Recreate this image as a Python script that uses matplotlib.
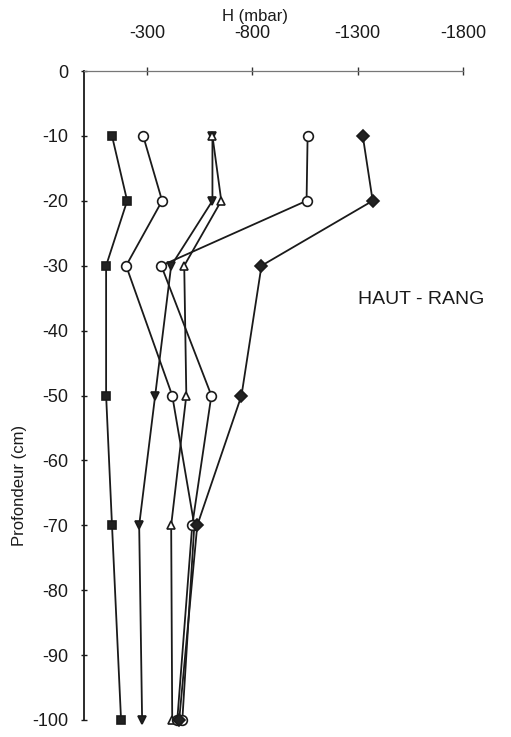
import matplotlib
matplotlib.use("Agg")
import matplotlib.pyplot as plt

W, H = 511, 737
plt.rcParams['font.family'] = ['Liberation Sans', 'DejaVu Sans']

# Depths (cm) and matric potential H (mbar) for each profile
depths = [-10, -20, -30, -50, -70, -100]
s1 = [-133, -205, -105, -105, -133, -176]
s2 = [-281, -371, -200, -419, -524, -467]
s3 = [-610, -610, -414, -338, -262, -276]
s4 = [-610, -652, -476, -486, -414, -419]
s5 = [-1062, -1057, -367, -605, -514, -443]
s6 = [-1324, -1371, -843, -748, -538, -452]

x_ticks = [-300, -800, -1300, -1800]
x_ticklabels = ['-300', '-800', '-1300', '-1800']
y_ticks = [0, -10, -20, -30, -40, -50, -60, -70, -80, -90, -100]
y_ticklabels = ['0', '-10', '-20', '-30', '-40', '-50', '-60', '-70', '-80', '-90', '-100']

fig = plt.figure(figsize=(W / 100, H / 100), dpi=100)
ax = fig.add_axes([84 / W, 1 - 720 / H, (463 - 84) / W, (720 - 71) / H])

styles = [
    (s1, dict(marker='s', mfc='#222222', ms=6)),
    (s2, dict(marker='o', mfc='white', ms=7)),
    (s3, dict(marker='v', mfc='#222222', ms=6)),
    (s4, dict(marker='^', mfc='white', ms=6)),
    (s5, dict(marker='o', mfc='white', ms=7)),
    (s6, dict(marker='D', mfc='#222222', ms=6)),
]
for vals, st in styles:
    ax.plot(vals, depths, color='#1a1a1a', lw=1.3, mec='#1a1a1a', mew=1.2,
            clip_on=False, zorder=3, **st)

ax.set_xlim(0, -1800)
ax.set_ylim(-100, 0)

for side in ('right', 'bottom'):
    ax.spines[side].set_visible(False)
ax.spines['top'].set_color('#777777')
ax.spines['top'].set_linewidth(0.9)
ax.spines['left'].set_color('#1a1a1a')
ax.spines['left'].set_linewidth(1.3)

ax.xaxis.tick_top()
ax.set_xticks(x_ticks)
ax.set_xticklabels(x_ticklabels, fontsize=13)
ax.tick_params(axis='x', direction='inout', length=6, width=1, pad=18, colors='#333333',
               labelcolor='#1a1a1a')
ax.set_yticks(y_ticks)
ax.set_yticklabels(y_ticklabels, fontsize=13)
ax.tick_params(axis='y', direction='inout', length=5, width=1, pad=9, colors='#1a1a1a')

fig.text(255 / W, 1 - 16 / H, 'H (mbar)', ha='center', va='center', fontsize=12, color='#1a1a1a')
fig.text(20 / W, 1 - 485 / H, 'Profondeur (cm)', ha='center', va='center', rotation=90,
         fontsize=12, color='#1a1a1a')
fig.text(421 / W, 1 - 300 / H, 'HAUT - RANG', ha='center', va='center', fontsize=14,
         color='#1a1a1a')

fig.savefig('out.png', dpi=100)
